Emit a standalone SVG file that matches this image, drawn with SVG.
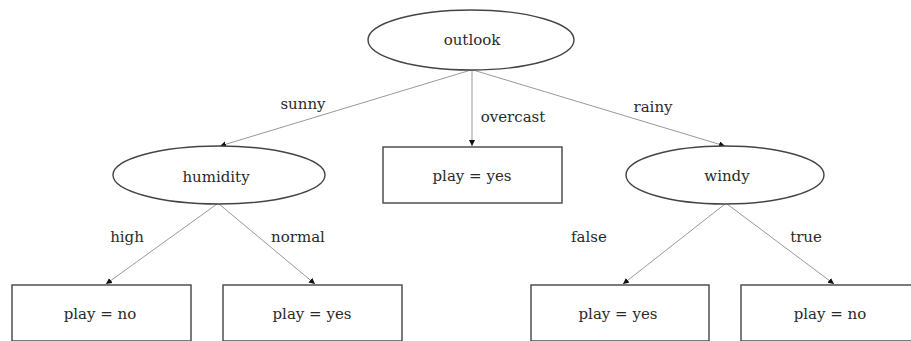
<svg xmlns="http://www.w3.org/2000/svg" width="911" height="341" viewBox="0 0 911 341">
<style>
.n{fill:#fff;stroke:#444;stroke-width:1.4}
.t{font-family:"DejaVu Serif",serif;font-size:15px;fill:#2a2a2a;text-anchor:middle}
.e{stroke:#999;stroke-width:1;fill:none;marker-end:url(#ah)}
</style>
<defs>
<marker id="ah" markerUnits="userSpaceOnUse" markerWidth="8" markerHeight="8" refX="6" refY="3" orient="auto">
<path d="M0,0 L6,3 L0,6 Z" fill="#111"/>
</marker>
</defs>
<g id="connectors">
<line class="e" x1="471" y1="70" x2="220" y2="146"/>
<line class="e" x1="472" y1="70" x2="472" y2="146"/>
<line class="e" x1="473" y1="70" x2="725" y2="146"/>
<line class="e" x1="217" y1="204" x2="106" y2="284"/>
<line class="e" x1="219" y1="204" x2="315" y2="284"/>
<line class="e" x1="725" y1="204" x2="623" y2="284"/>
<line class="e" x1="727" y1="204" x2="834" y2="284"/>
<text class="t" x="303" y="109">sunny</text>
<text class="t" x="513" y="122">overcast</text>
<text class="t" x="653" y="112">rainy</text>
<text class="t" x="127" y="242">high</text>
<text class="t" x="298" y="242">normal</text>
<text class="t" x="589" y="242">false</text>
<text class="t" x="806" y="242">true</text>
</g>
<g id="outlook"><ellipse class="n" cx="471" cy="40" rx="103" ry="30"/><text class="t" x="472" y="45">outlook</text></g>
<g id="humidity"><ellipse class="n" cx="219" cy="175" rx="106" ry="29"/><text class="t" x="216" y="182">humidity</text></g>
<g id="overcast-yes"><rect class="n" x="383" y="147" width="179" height="56"/><text class="t" x="472" y="181">play = yes</text></g>
<g id="windy"><ellipse class="n" cx="725" cy="175" rx="99" ry="29"/><text class="t" x="727" y="181">windy</text></g>
<g id="high-no"><rect class="n" x="12" y="285" width="179" height="56"/><text class="t" x="100" y="319">play = no</text></g>
<g id="normal-yes"><rect class="n" x="223" y="285" width="179" height="56"/><text class="t" x="312" y="319">play = yes</text></g>
<g id="false-yes"><rect class="n" x="531" y="285" width="178" height="56"/><text class="t" x="618" y="319">play = yes</text></g>
<g id="true-no"><rect class="n" x="741" y="285" width="171" height="56"/><text class="t" x="830" y="319">play = no</text></g>
</svg>
